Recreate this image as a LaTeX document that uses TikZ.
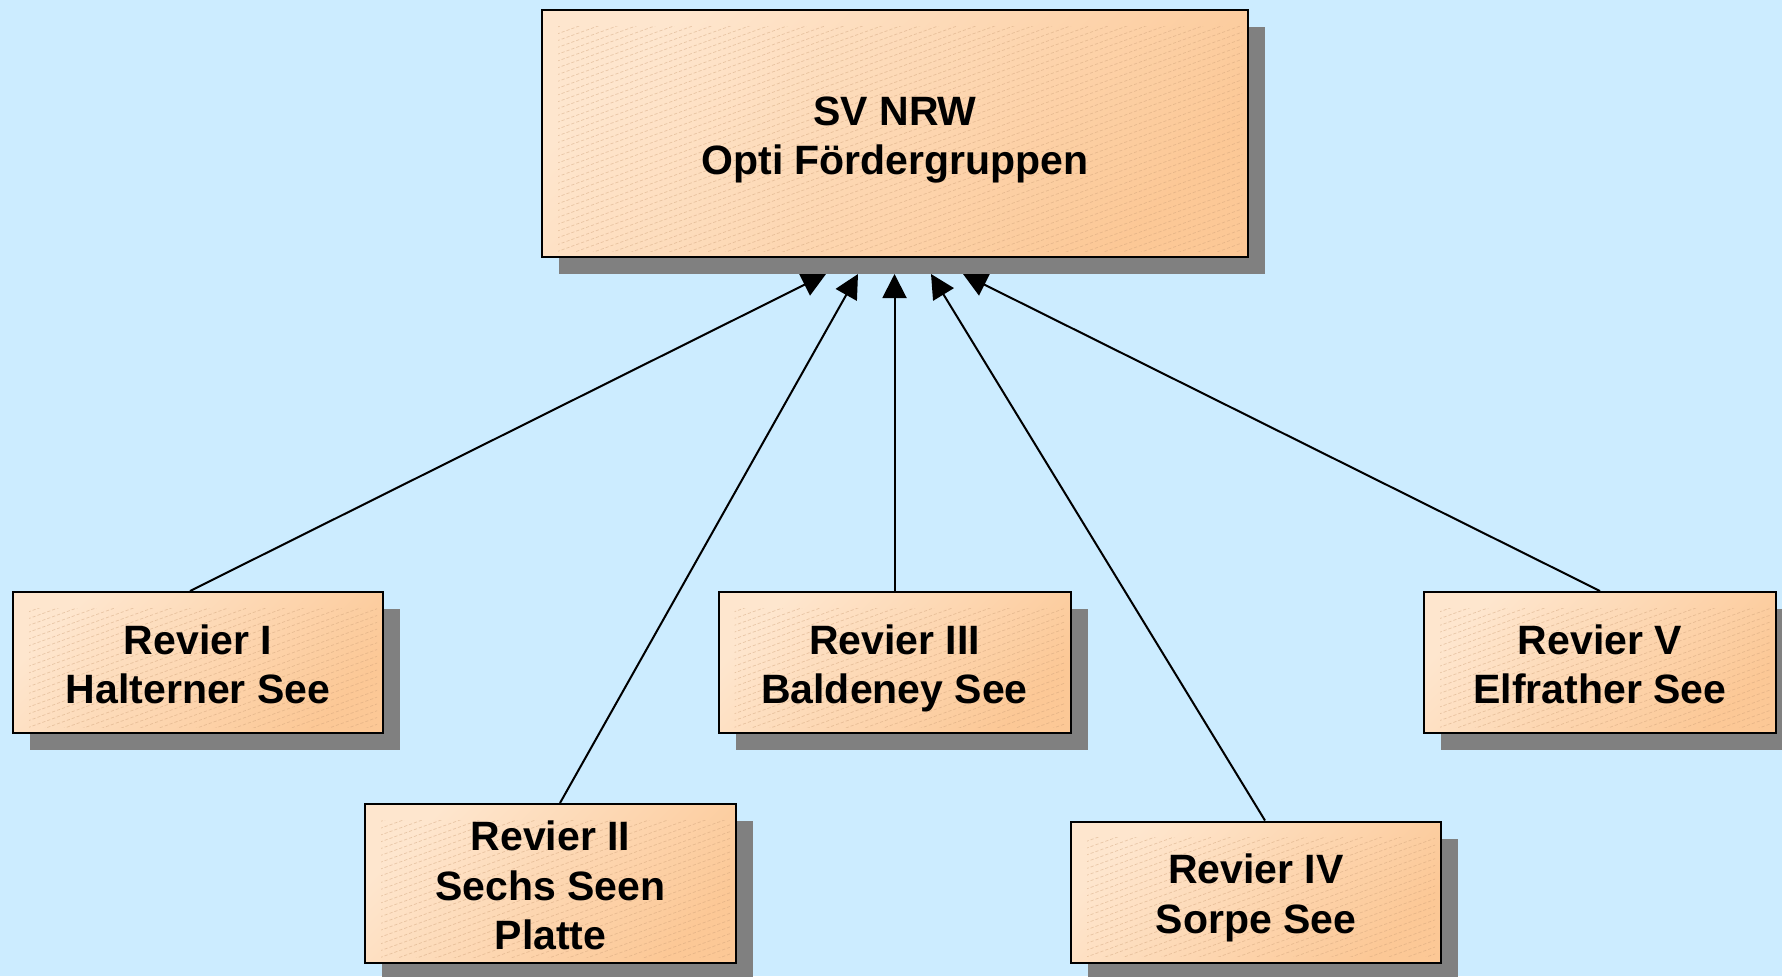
\documentclass[tikz,border=0pt]{standalone}
\usepackage{fontspec}
\setmainfont{Liberation Sans}
\usetikzlibrary{arrows.meta,shadows,backgrounds}
\definecolor{fundo}{RGB}{204,236,255}
\definecolor{pessegoclaro}{RGB}{254,230,206}
\definecolor{pessegoescuro}{RGB}{252,200,150}
\definecolor{sombra}{RGB}{128,128,128}
\definecolor{listra}{RGB}{205,160,120}
\newcommand{\topo}{\rule{0pt}{20.9pt}}
\newcommand{\fim}{\rule[-4.4pt]{0pt}{4.4pt}}
\tikzset{
  caixa/.style={draw=black, line width=1pt, align=center, inner sep=0pt,
    font=\fontsize{20.5}{24.6}\selectfont\bfseries,
    execute at end node=\fim,
    top color=pessegoclaro, bottom color=pessegoescuro, shading angle=45,
    drop shadow={shadow xshift=8.5pt, shadow yshift=-8.5pt, fill=sombra, opacity=1},
    path picture={
      \clip ([shift={(8pt,-8pt)}]path picture bounding box.north west)
        rectangle ([shift={(-3pt,3pt)}]path picture bounding box.south east);
      \foreach \k in {-37,...,36}
        \draw[listra, opacity=0.45, line width=0.35pt, dash pattern=on 1.6pt off 1pt]
          ([yshift=\k*3.4pt]path picture bounding box.south west) -- ++(400pt,144pt);
    }},
  seta/.style={line width=1pt, -{Triangle[length=12pt,width=12pt]}}
}
\begin{document}
\begin{tikzpicture}[x=0.5pt,y=-0.5pt]
%fundo
\begin{scope}[on background layer]
  \fill[fundo] (0,0) rectangle (1782,976);
\end{scope}
\useasboundingbox (0,0) rectangle (1782,976);
%caixas
  \node[caixa, minimum width=353pt, minimum height=123.5pt] (sv) at (895,133.5) {\topo SV NRW\\Opti Fördergruppen};
  \node[caixa, minimum width=185pt, minimum height=70.5pt] (r1) at (198,662.5) {\topo Revier I\\Halterner See};
  \node[caixa, minimum width=185.5pt, minimum height=79.5pt] (r2) at (550.5,883.5) {\topo Revier II\\Sechs Seen\\Platte};
  \node[caixa, minimum width=176pt, minimum height=70.5pt] (r3) at (894.5,662.5) {\topo Revier III\\Baldeney See};
  \node[caixa, minimum width=185pt, minimum height=70.5pt] (r4) at (1256,892) {\topo Revier IV\\Sorpe See};
  \node[caixa, minimum width=176pt, minimum height=70.5pt] (r5) at (1600,662.5) {\topo Revier V\\Elfrather See};
%pontas das setas
  \coordinate (t1) at (826,274);
  \coordinate (t2) at (858,274);
  \coordinate (t3) at (894.5,274);
  \coordinate (t4) at (931,274);
  \coordinate (t5) at (963,274);
%setas
\begin{scope}[on background layer]
  \draw[seta] ([xshift=-4pt]r1.north) -- (t1);
  \draw[seta] ([xshift=4.75pt]r2.north) -- (t2);
  \draw[seta] (r3.north) -- (t3);
  \draw[seta] ([xshift=4.5pt]r4.north) -- (t4);
  \draw[seta] (r5.north) -- (t5);
\end{scope}
\end{tikzpicture}
\end{document}
